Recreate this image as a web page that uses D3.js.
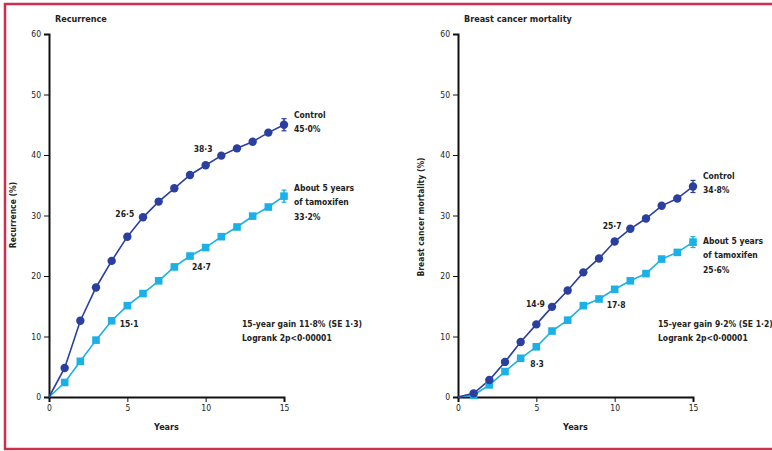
<!DOCTYPE html>
<html>
<head>
<meta charset="utf-8">
<script src="https://cdn.jsdelivr.net/npm/d3@7"></script>
<style>
  body { margin: 0; background: #fff; }
  svg text { font-family: "Liberation Sans Narrow", "DejaVu Sans Condensed", "Liberation Sans", sans-serif; font-weight: bold; fill: #222; }
  .axis path, .axis line { stroke: #111; }
</style>
</head>
<body>
<div id="root"></div>
<script>
'use strict';

var years = [0, 1, 2, 3, 4, 5, 6, 7, 8, 9, 10, 11, 12, 13, 14, 15];
var yTicks = [0, 10, 20, 30, 40, 50, 60];
var xTicks = [0, 5, 10, 15];

// recurrence (%)
var recControl = [0, 4.8, 12.6, 18.1, 22.5, 26.5, 29.7, 32.3, 34.5, 36.7, 38.3, 39.9, 41.1, 42.2, 43.7, 45.0];
var recTamox = [0, 2.4, 5.9, 9.4, 12.6, 15.1, 17.1, 19.2, 21.5, 23.3, 24.7, 26.5, 28.1, 29.9, 31.4, 33.2];

// breast cancer mortality (%)
var mortControl = [0, 0.6, 2.8, 5.8, 9.1, 12.0, 14.9, 17.6, 20.6, 22.9, 25.7, 27.8, 29.5, 31.6, 32.8, 34.8];
var mortTamox = [0, 0.3, 2.0, 4.2, 6.4, 8.3, 10.9, 12.7, 15.1, 16.2, 17.8, 19.2, 20.4, 22.8, 23.9, 25.6];

// SE at 15 years (shown as error bars)
var recSE = [1.0, 1.0];
var mortSE = [1.0, 0.9];

var controlColor = '#2b3f9f';
var tamoxColor = '#1bb0e6';

var svg = d3.select('#root').append('svg')
  .attr('width', 772)
  .attr('height', 451);

// outer frame
svg.append('rect')
  .attr('x', 5).attr('y', 4)
  .attr('width', 780).attr('height', 445)
  .attr('fill', 'none')
  .attr('stroke', '#cf2e4c')
  .attr('stroke-width', 2.5);

function drawPanel(opt) {
  var x = d3.scaleLinear().domain([0, 15]).range([opt.left, opt.right]);
  var y = d3.scaleLinear().domain([0, 60]).range([397, 34]);
  var g = svg.append('g');

  g.append('g').attr('class', 'axis')
    .attr('transform', 'translate(' + opt.left + ',0)')
    .call(d3.axisLeft(y).tickValues(yTicks).tickSize(5).tickPadding(3))
    .call(function (s) {
      s.select('.domain').attr('stroke-width', 2);
      s.selectAll('text').attr('font-size', 8.5).attr('fill', '#333').style('font-weight', 'normal');
    });

  g.append('g').attr('class', 'axis')
    .attr('transform', 'translate(0,397)')
    .call(d3.axisBottom(x).tickValues(xTicks).tickSize(5).tickPadding(3))
    .call(function (s) {
      s.select('.domain').attr('stroke-width', 2);
      s.selectAll('text').attr('font-size', 8.5).attr('fill', '#333').style('font-weight', 'normal');
    });

  g.append('text')
    .attr('x', opt.left + 6).attr('y', 22)
    .attr('font-size', 9)
    .text(opt.title);

  g.append('text')
    .attr('transform', 'translate(' + opt.ylabX + ',' + opt.ylabY + ') rotate(-90)')
    .attr('text-anchor', 'middle')
    .attr('font-size', 8.5)
    .text(opt.ylabel);

  g.append('text')
    .attr('x', x(7.5)).attr('y', 430)
    .attr('text-anchor', 'middle')
    .attr('font-size', 9)
    .text('Years');

  var line = d3.line()
    .x(function (d, i) { return x(years[i]); })
    .y(function (d) { return y(d); });

  // error bars at 15 years
  [[opt.control, opt.se[0], controlColor], [opt.tamox, opt.se[1], tamoxColor]].forEach(function (s) {
    var v = s[0][15];
    g.append('line')
      .attr('x1', x(15)).attr('x2', x(15))
      .attr('y1', y(v - s[1])).attr('y2', y(v + s[1]))
      .attr('stroke', s[2]).attr('stroke-width', 1.5);
    g.selectAll(null).data([v - s[1], v + s[1]]).enter().append('line')
      .attr('x1', x(15) - 2.5).attr('x2', x(15) + 2.5)
      .attr('y1', function (d) { return y(d); })
      .attr('y2', function (d) { return y(d); })
      .attr('stroke', s[2]).attr('stroke-width', 1.2);
  });

  g.append('path').datum(opt.tamox)
    .attr('d', line).attr('fill', 'none')
    .attr('stroke', tamoxColor).attr('stroke-width', 1.6);
  g.append('path').datum(opt.control)
    .attr('d', line).attr('fill', 'none')
    .attr('stroke', controlColor).attr('stroke-width', 1.6);

  g.selectAll('rect.tam').data(opt.tamox.slice(1)).enter().append('rect')
    .attr('class', 'tam')
    .attr('x', function (d, i) { return x(years[i + 1]) - 3.8; })
    .attr('y', function (d) { return y(d) - 3.8; })
    .attr('width', 7.6).attr('height', 7.6)
    .attr('fill', tamoxColor);

  g.selectAll('circle.ctl').data(opt.control.slice(1)).enter().append('circle')
    .attr('class', 'ctl')
    .attr('cx', function (d, i) { return x(years[i + 1]); })
    .attr('cy', function (d) { return y(d); })
    .attr('r', 4.2)
    .attr('fill', controlColor);

  // value labels
  opt.labels.forEach(function (l) {
    g.append('text')
      .attr('x', x(l.yr) + l.dx).attr('y', y(l.v) + l.dy)
      .attr('text-anchor', l.anchor || 'start')
      .attr('font-size', 8.5)
      .text(l.text);
  });

  // end labels
  var ex = x(15) + 10;
  g.append('text').attr('x', ex).attr('y', y(opt.control[15]) - 7).attr('font-size', 8.5).text('Control');
  g.append('text').attr('x', ex).attr('y', y(opt.control[15]) + 7).attr('font-size', 8.5).text(opt.ctlText);
  g.append('text').attr('x', ex).attr('y', y(opt.tamox[15]) + opt.tamDy).attr('font-size', 8.5).text('About 5 years');
  g.append('text').attr('x', ex).attr('y', y(opt.tamox[15]) + opt.tamDy + 14).attr('font-size', 8.5).text('of tamoxifen');
  g.append('text').attr('x', ex).attr('y', y(opt.tamox[15]) + opt.tamDy + 29).attr('font-size', 8.5).text(opt.tamText);

  g.append('text').attr('x', opt.gainX).attr('y', 327).attr('font-size', 8.5).text(opt.gain);
  g.append('text').attr('x', opt.gainX).attr('y', 341).attr('font-size', 8.5).text('Logrank 2p<0·00001');
}

drawPanel({
  left: 49, right: 284,
  title: 'Recurrence',
  ylabel: 'Recurrence (%)', ylabX: 16, ylabY: 215,
  control: recControl, tamox: recTamox, se: recSE,
  ctlText: '45·0%', tamText: '33·2%', tamDy: -5,
  gain: '15-year gain 11·8% (SE 1·3)', gainX: 242,
  labels: [
    { yr: 5, v: recControl[5], text: '26·5', dx: -12, dy: -20 },
    { yr: 10, v: recControl[10], text: '38·3', dx: -12, dy: -13 },
    { yr: 4, v: recTamox[4], text: '15·1', dx: 8, dy: 6 },
    { yr: 9, v: recTamox[9], text: '24·7', dx: 2, dy: 14 }
  ]
});

drawPanel({
  left: 458, right: 693,
  title: 'Breast cancer mortality',
  ylabel: 'Breast cancer mortality (%)', ylabX: 424, ylabY: 217,
  control: mortControl, tamox: mortTamox, se: mortSE,
  ctlText: '34·8%', tamText: '25·6%', tamDy: 2,
  gain: '15-year gain 9·2% (SE 1·2)', gainX: 658,
  labels: [
    { yr: 6, v: mortControl[6], text: '14·9', dx: -26, dy: 0 },
    { yr: 10, v: mortControl[10], text: '25·7', dx: -12, dy: -13 },
    { yr: 5, v: mortTamox[5], text: '8·3', dx: -6, dy: 20 },
    { yr: 10, v: mortTamox[10], text: '17·8', dx: -8, dy: 19 }
  ]
});
</script>
</body>
</html>
